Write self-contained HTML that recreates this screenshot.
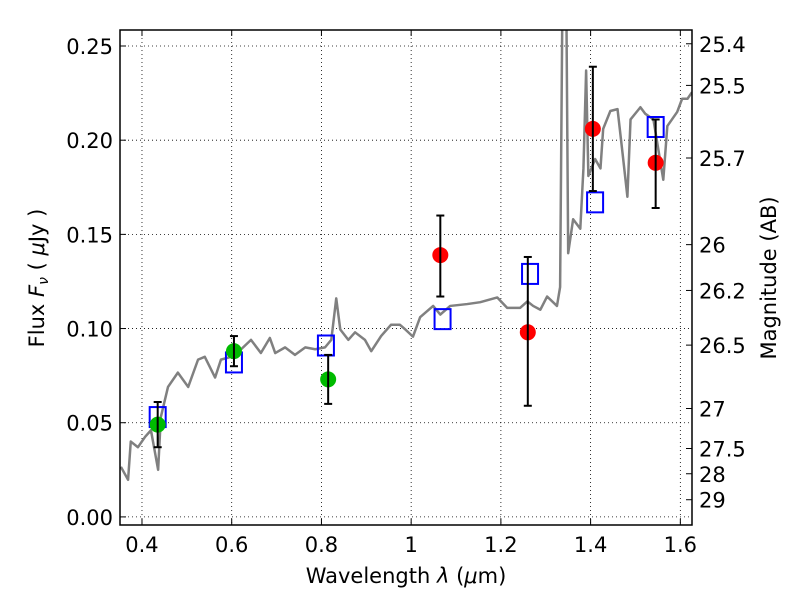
<!DOCTYPE html>
<html><head><meta charset="utf-8"><style>
body{margin:0;background:#fff;}
svg{display:block;font-family:"DejaVu Sans","Liberation Sans",sans-serif;}
</style></head><body>
<svg id="chart" width="800" height="600" viewBox="0 0 800 600" xmlns="http://www.w3.org/2000/svg">
<rect x="0" y="0" width="800" height="600" fill="#fff"/>
<g id="grid"></g>
<g id="marks"></g>
<g id="axes"></g>
</svg>
<script>
const specWave=[0.353,0.369,0.375,0.391,0.407,0.42,0.436,0.442,0.458,0.48,0.503,0.525,0.54,0.563,0.576,0.599,0.621,0.643,0.665,0.685,0.697,0.719,0.741,0.764,0.786,0.808,0.822,0.833,0.842,0.86,0.875,0.897,0.911,0.933,0.955,0.975,0.987,1.004,1.02,1.049,1.065,1.087,1.125,1.154,1.192,1.214,1.243,1.259,1.272,1.288,1.303,1.325,1.332,1.337,1.346,1.35,1.361,1.377,1.384,1.39,1.395,1.41,1.422,1.428,1.444,1.46,1.471,1.482,1.489,1.511,1.522,1.54,1.562,1.571,1.593,1.604,1.616,1.626];
const specFlux=[0.0266,0.0197,0.040,0.037,0.0425,0.046,0.025,0.053,0.069,0.0766,0.069,0.0835,0.085,0.074,0.0835,0.085,0.089,0.094,0.087,0.095,0.087,0.090,0.086,0.090,0.089,0.090,0.094,0.116,0.0995,0.094,0.098,0.094,0.088,0.096,0.102,0.102,0.0995,0.0957,0.106,0.112,0.1074,0.112,0.113,0.114,0.1165,0.111,0.111,0.1144,0.112,0.110,0.117,0.112,0.122,0.27,0.27,0.140,0.158,0.153,0.185,0.237,0.181,0.19,0.185,0.206,0.2155,0.2165,0.1935,0.170,0.211,0.2175,0.214,0.211,0.179,0.2075,0.215,0.222,0.222,0.2255];
const greenWave=[0.435,0.605,0.815];
const greenFlux=[0.049,0.088,0.073];
const greenLo=[0.037,0.080,0.060];
const greenHi=[0.061,0.096,0.086];
const redWave=[1.065,1.26,1.405,1.545];
const redFlux=[0.139,0.098,0.206,0.188];
const redLo=[0.117,0.059,0.173,0.164];
const redHi=[0.160,0.138,0.239,0.211];
const modelWave=[0.435,0.605,0.81,1.07,1.265,1.41,1.545];
const modelFlux=[0.053,0.082,0.091,0.105,0.129,0.167,0.207];
const xTicks=[0.4,0.6,0.8,1.0,1.2,1.4,1.6];
const xTickLabels=["0.4","0.6","0.8","1","1.2","1.4","1.6"];
const yTicks=[0,0.05,0.10,0.15,0.20,0.25];
const yTickLabels=["0.00","0.05","0.10","0.15","0.20","0.25"];
const magTicks=[25.4,25.5,25.7,26,26.2,26.5,27,27.5,28,29];
const magTickLabels=["25.4","25.5","25.7","26","26.2","26.5","27","27.5","28","29"];

const L=120,R=692,T=30,B=525;
const xMin=0.351,xMax=1.626,yMin=-0.0043,yMax=0.2585;
const sx=v=>L+(v-xMin)/(xMax-xMin)*(R-L);
const sy=v=>B-(v-yMin)/(yMax-yMin)*(B-T);
const NS="http://www.w3.org/2000/svg";
function mk(p,tag,a){const e=document.createElementNS(NS,tag);for(const k in a)e.setAttribute(k,a[k]);p.appendChild(e);return e;}
const svg=document.getElementById('chart');
const grid=document.getElementById('grid'),marks=document.getElementById('marks'),axes=document.getElementById('axes');
const defs=mk(svg,'defs',{});const cp=mk(defs,'clipPath',{id:'pc'});mk(cp,'rect',{x:L,y:T,width:R-L,height:B-T});
marks.setAttribute('clip-path','url(#pc)');

xTicks.forEach((v,i)=>{
  const g=mk(grid,'line',{x1:sx(v),x2:sx(v),y1:T,y2:B,stroke:'#000','stroke-dasharray':'1,3','stroke-width':0.8});
  
  
  mk(axes,'line',{x1:sx(v),x2:sx(v),y1:B,y2:B-6,stroke:'#000'});
  mk(axes,'line',{x1:sx(v),x2:sx(v),y1:T,y2:T+6,stroke:'#000'});
  const t=mk(axes,'text',{x:sx(v),y:B+27,'font-size':21,'text-anchor':'middle'});t.textContent=xTickLabels[i];
  
  
});
yTicks.forEach((v,i)=>{
  const g=mk(grid,'line',{x1:L,x2:R,y1:sy(v),y2:sy(v),stroke:'#000','stroke-dasharray':'1,3','stroke-width':0.8});
  
  
  mk(axes,'line',{x1:L,x2:L+6,y1:sy(v),y2:sy(v),stroke:'#000'});
  const t=mk(axes,'text',{x:L-7,y:sy(v)+8,'font-size':21,'text-anchor':'end'});t.textContent=yTickLabels[i];
  
  
});
magTicks.forEach((m,i)=>{
  const f=Math.pow(10,(23.9-m)/2.5);const y=sy(f);
  mk(axes,'line',{x1:R,x2:R-6,y1:y,y2:y,stroke:'#000'});
  const t=mk(axes,'text',{x:R+7,y:y+8,'font-size':21});t.textContent=magTickLabels[i];
  
  
});
const sp=mk(marks,'polyline',{points:specWave.map((w,i)=>sx(w)+','+sy(specFlux[i])).join(' '),fill:'none',stroke:'#808080','stroke-width':2.5,'stroke-linejoin':'round'});


function errs(w,lo,hi){w.forEach((x,i)=>{const X=sx(x);
  const e=mk(marks,'g',{stroke:'#000','stroke-width':2});
  
  
  mk(e,'line',{x1:X,x2:X,y1:sy(lo[i]),y2:sy(hi[i])});
  mk(e,'line',{x1:X-4,x2:X+4,y1:sy(lo[i]),y2:sy(lo[i])});
  mk(e,'line',{x1:X-4,x2:X+4,y1:sy(hi[i]),y2:sy(hi[i])});});}
modelWave.forEach((w,i)=>{const r=mk(marks,'rect',{x:sx(w)-8,y:sy(modelFlux[i])-10,width:16,height:20,fill:'none',stroke:'#0000ff','stroke-width':2});
  
  });
greenWave.forEach((w,i)=>{const c=mk(marks,'circle',{cx:sx(w),cy:sy(greenFlux[i]),r:8,fill:'#00bb00'});
  
  });
redWave.forEach((w,i)=>{const c=mk(marks,'circle',{cx:sx(w),cy:sy(redFlux[i]),r:8,fill:'#ff0000'});
  
  });
errs(greenWave,greenLo,greenHi);errs(redWave,redLo,redHi);
const fr=mk(axes,'rect',{x:L,y:T,width:R-L,height:B-T,fill:'none',stroke:'#000','stroke-width':1.5});


</script>
<svg style="position:absolute;left:0;top:0" width="800" height="600">
<text x="406" y="583" font-size="21" text-anchor="middle" font-family="DejaVu Sans, Liberation Sans, sans-serif">Wavelength  <tspan font-style="italic">λ</tspan> (<tspan font-style="italic">μ</tspan>m)</text>
<text transform="translate(44,278) rotate(-90)" font-size="21" text-anchor="middle" font-family="DejaVu Sans, Liberation Sans, sans-serif">Flux  <tspan font-style="italic">F</tspan><tspan font-style="italic" font-size="14" dy="4">ν</tspan><tspan dy="-4">  ( </tspan><tspan font-style="italic">μ</tspan>Jy )</text>
<text transform="translate(776,278) rotate(-90)" font-size="21" text-anchor="middle" font-family="DejaVu Sans, Liberation Sans, sans-serif">Magnitude (AB)</text>
</svg>
</body></html>
